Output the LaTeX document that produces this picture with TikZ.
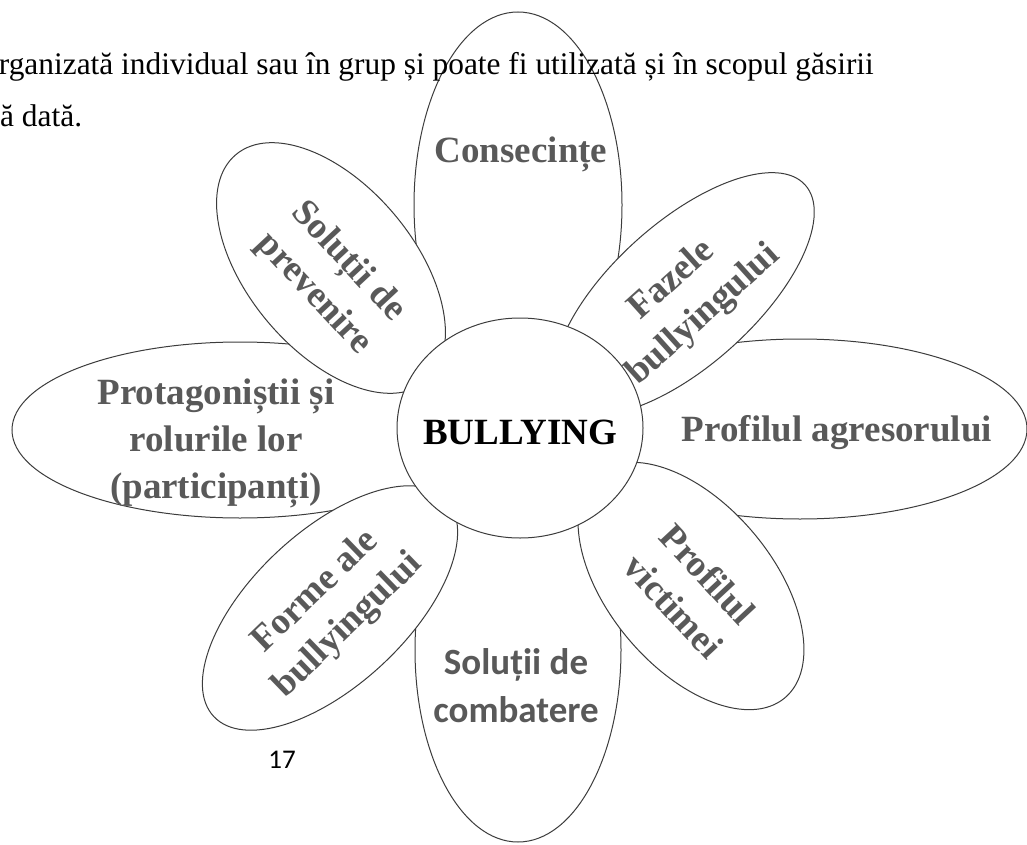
\documentclass[tikz,border=0pt]{standalone}
\usepackage{fontspec}
\setmainfont{Liberation Serif}
\newfontfamily\carlito{Carlito}
\usetikzlibrary{shapes.geometric}

\definecolor{petalgray}{RGB}{89,89,89}
\definecolor{edgegray}{RGB}{60,60,60}

\tikzset{
  petal/.style={ellipse, draw=edgegray, line width=1pt, fill=white, inner sep=0pt},
  petaltext/.style={text=petalgray, font=\fontsize{37}{47}\selectfont\bfseries, align=center, inner sep=0pt},
  bodytext/.style={font=\fontsize{31.4}{60}\selectfont, anchor=base west, inner sep=0pt}
}

\begin{document}
\begin{tikzpicture}[x=1pt,y=-1pt]
  \useasboundingbox (0,0) rectangle (1027,845);
  \clip (0,0) rectangle (1027,845);

  % straight petals
  \node [petal, minimum width=208pt, minimum height=386pt] (consecinte) at (518,205) {};
  \node [petal, minimum width=206pt, minimum height=384pt] (combatere) at (518,650) {};
  \node [petal, minimum width=456pt, minimum height=176pt] (protagonisti) at (240,430) {};
  \node [petal, minimum width=454pt, minimum height=180pt] (agresor) at (800,429) {};

  % slanted petals
  \node [petal, minimum width=296pt, minimum height=166pt, rotate=-50] (prevenire) at (331,268) {};
  \node [petal, minimum width=326pt, minimum height=143pt, rotate=42] (fazele) at (684,294) {};
  \node [petal, minimum width=292pt, minimum height=164pt, rotate=-50] (victima) at (691,586) {};
  \node [petal, minimum width=318pt, minimum height=154pt, rotate=43] (forme) at (330,608) {};

  % centre
  \node [petal, minimum width=246pt, minimum height=220pt] (centru) at (520,428) {};

  % labels
  \node [petaltext, anchor=base] (tconsecinte) at (521,163) {Consecințe};
  \node [petaltext] (tprotagonisti) at (216,443) {Protagoniștii și\\rolurile lor\\(participanți)};
  \node [petaltext, anchor=base] (tagresor) at (837,441) {Profilul agresorului};
  \node [petaltext, font=\fontsize{37}{48}\selectfont\carlito\bfseries] (tcombatere) at (516,686) {Soluții de\\combatere};
  \node [petaltext, rotate=-47] (tprevenire) at (331,278) {Soluții de\\prevenire};
  \node [petaltext, rotate=42] (tfazele) at (688,298) {Fazele\\bullyingului};
  \node [petaltext, rotate=-47] (tvictima) at (691,590) {Profilul\\victimei};
  \node [petaltext, rotate=44] (tforme) at (332,609) {Forme ale\\bullyingului};
  \node [petaltext, text=black, anchor=base] (tbullying) at (520,444) {BULLYING};

  % page text
  \node [bodytext] (rand1) at (-17,75) {organizată individual sau în grup și poate fi utilizată și în scopul găsirii};
  \node [bodytext] (rand2) at (0,127) {ă dată.};
  \node [font=\fontsize{27}{30}\selectfont\carlito, anchor=base, inner sep=0pt] (pagina) at (282,768) {17};
\end{tikzpicture}
\end{document}
